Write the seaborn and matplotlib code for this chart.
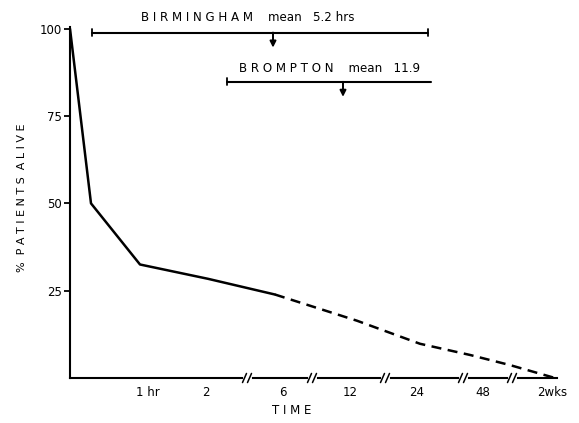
import numpy as np
import pandas as pd
import matplotlib
matplotlib.use("Agg")
import matplotlib.pyplot as plt
import seaborn as sns

# schematic time axis (broken scale), positions along the axis
time_pos_solid = [0, 21, 70, 138, 205]
alive_solid = [100, 50, 32.5, 28.4, 23.9]
time_pos_dashed = [205, 287, 350, 400, 440, 485]
alive_dashed = [23.9, 16.4, 9.8, 6.6, 3.7, 0]

tick_pos = [78, 136, 213, 280, 347, 413, 482]
tick_labels = ["1 hr", "2", "6", "12", "24", "48", "2wks"]
break_pos = [177, 242, 315, 393, 442]

# range bars for the two hospitals
birm_range = [22, 358]
birm_mean = 203
brom_range = [157, 361]
brom_mean = 273

df = pd.DataFrame({
    "time": time_pos_solid + time_pos_dashed,
    "alive": alive_solid + alive_dashed,
    "part": ["observed"] * len(time_pos_solid) + ["extrapolated"] * len(time_pos_dashed),
})

sns.set_style("ticks")
plt.rcParams["font.family"] = ["DejaVu Sans"]
plt.rcParams["text.color"] = "black"
plt.rcParams["xtick.color"] = "black"
plt.rcParams["ytick.color"] = "black"
plt.rcParams["axes.edgecolor"] = "black"

fig = plt.figure(figsize=(5.79, 4.23), dpi=100)
ax = fig.add_axes([70 / 579, 45 / 423, 487 / 579, 351 / 423])

sns.lineplot(data=df, x="time", y="alive", style="part",
             dashes={"observed": "", "extrapolated": (4, 2.6)},
             color="black", linewidth=1.8, legend=False, ax=ax, sort=False)

ax.set_xlim(0, 487)
ax.set_ylim(0, 100.5)
ax.set_yticks([25, 50, 75, 100])
ax.set_yticklabels(["25", "50", "75", "100"], fontsize=8.5)
ax.set_xticks(tick_pos)
ax.set_xticklabels(tick_labels, fontsize=8.5)
ax.tick_params(axis="y", length=4, width=1.3, pad=2)
ax.tick_params(axis="x", length=0, pad=6)
ax.set_xlabel("")
ax.set_ylabel("")
sns.despine(ax=ax)
for s in ["left", "bottom"]:
    ax.spines[s].set_linewidth(1.5)

# axis breaks
tr = ax.get_xaxis_transform()
for b in break_pos:
    ax.plot([b - 2.5, b + 2.5], [0, 0], color="white", lw=3, transform=tr, clip_on=False, zorder=5)
    for dx in (-2.5, 2.5):
        ax.plot([b + dx - 2, b + dx + 2], [-0.013, 0.013], color="black", lw=1.1,
                transform=tr, clip_on=False, zorder=6)

# range bars
def range_bar(x0, x1, y, xm, ym, caps):
    ax.plot([x0, x1], [y, y], color="black", lw=1.5, clip_on=False)
    for c, on in zip((x0, x1), caps):
        if on:
            ax.plot([c, c], [y - 1.0, y + 1.0], color="black", lw=1.3, clip_on=False)
    ax.annotate("", xy=(xm, ym), xytext=(xm, y), annotation_clip=False,
                arrowprops=dict(arrowstyle="-|>", color="black", lw=1.4, mutation_scale=9,
                                shrinkA=0, shrinkB=0))

range_bar(birm_range[0], birm_range[1], 98.9, birm_mean, 94.6, (True, True))
range_bar(brom_range[0], brom_range[1], 84.8, brom_mean, 80.5, (True, False))

ax.text(178, 103.2, "B I R M I N G H A M    mean   5.2 hrs", ha="center", va="center",
        fontsize=8.6, clip_on=False)
ax.text(260, 88.6, "B R O M P T O N    mean   11.9", ha="center", va="center",
        fontsize=8.6, clip_on=False)

fig.text(22 / 579, 1 - 198 / 423, "%  P A T I E N T S  A L I V E", rotation=90,
         ha="center", va="center", fontsize=8)
fig.text(292 / 579, 1 - 410 / 423, "T I M E", ha="center", va="center", fontsize=8.5)

fig.savefig("out.png", dpi=100)
